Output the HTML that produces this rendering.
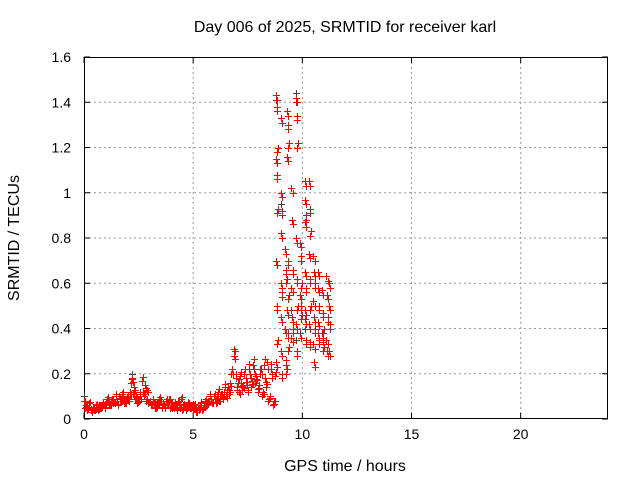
<!DOCTYPE html>
<html><head><meta charset="utf-8"><style>
body{margin:0;background:#fff}
svg text{font-family:"Liberation Sans",sans-serif;font-size:14px;fill:#000}
svg text.big{font-size:16px}
</style></head><body>
<svg id="c" width="640" height="480">
<text class="big" x="345" y="32" text-anchor="middle">Day 006 of 2025, SRMTID for receiver karl</text>
<text class="big" x="345" y="471" text-anchor="middle">GPS time / hours</text>
<text class="big" transform="translate(19,238) rotate(-90)" text-anchor="middle">SRMTID / TECUs</text>
</svg>
<script>
const xTicks=[0,5,10,15,20];
const yTicks=[0,0.2,0.4,0.6,0.8,1,1.2,1.4,1.6];
const yTickLabels=["0","0.2","0.4","0.6","0.8","1","1.2","1.4","1.6"];
const baseStart=0, baseStep=0.1;
const baseA=[.08,.06,.05,.04,.05,.04,.05,.06,.05,.06,.07,.08,.06,.09,.07,.08,.10,.08,.09,.07,.10,.12,.18,.14,.10,.08,.09,.12,.15,.13,.08,.06,.07,.05,.06,.08,.07,.05,.06,.09,.07,.05,.06,.08,.05,.04,.06,.05,.07,.05,.04,.05,.06,.05,.04,.06,.07,.08,.09,.07,.09,.10,.08,.11,.12,.10,.14,.16,.22,.30,.14,.12,.16,.15,.18,.13,.20,.17,.22,.19,.15,.22,.12,.18,.25,.10,.20,.08];
const baseB=[.05,.04,.07,.03,.04,.06,.04,.05,.07,.05,.09,.06,.08,.07,.10,.06,.08,.11,.07,.09,.08,.16,.11,.09,.07,.11,.17,.10,.08,.07,.06,.08,.05,.07,.09,.05,.06,.08,.07,.05,.05,.07,.04,.06,.09,.06,.04,.07,.05,.06,.06,.03,.04,.07,.05,.08,.06,.10,.07,.10,.07,.12,.10,.09,.14,.13,.11,.20,.28,.18,.16,.19,.13,.20,.15,.22,.14,.24,.16,.12,.20,.10,.24,.14,.08,.22,.06,.19];
const peakTimes=[8.8,9.0,9.2,9.3,9.5,9.7,9.9,10.1,10.3,10.5,10.7,10.9,11.1,11.2];
const peakValues=[[1.43,1.38,1.2,1.15,1.08,0.93,0.70,0.50,0.35,0.25],[1.33,1.0,0.92,0.82,0.6,0.56,0.45,0.3,0.2],[0.75,0.66,0.62,0.4,0.26,0.22],[1.36,1.3,1.22,1.16,0.7,0.55,0.48,0.38,0.32],[1.02,0.88,0.66,0.58,0.45,0.4,0.36],[1.42,1.34,1.22,0.8,0.62,0.5,0.42,0.3],[0.78,0.72,0.6,0.55,0.5,0.46,0.38],[1.05,0.97,0.9,0.87,0.65,0.58,0.48,0.44,0.35],[1.05,0.93,0.83,0.73,0.62,0.5,0.42,0.34],[0.72,0.65,0.6,0.52,0.45,0.4,0.33,0.25],[0.65,0.58,0.5,0.43,0.38,0.35],[0.57,0.47,0.4,0.38,0.36,0.32],[0.63,0.55,0.45,0.35,0.3],[0.6,0.5,0.42,0.3]];
const grayTimes=[8.8,9.7,9.7,9.0,9.5,10.1,0.0,2.2,9.7];
const grayValues=[1.41,1.44,1.40,0.95,0.48,0.40,0.10,0.20,0.35];

const L=84,R=608,T=57,B=419;
const xs=v=>L+v/24*(R-L), ys=v=>B-v/1.6*(B-T);
const svg=document.getElementById('c'), NS='http://www.w3.org/2000/svg';
function mk(t,a){const e=document.createElementNS(NS,t);for(const k in a)e.setAttribute(k,a[k]);svg.appendChild(e);return e;}
xTicks.forEach(v=>{const x=xs(v);
 if(v>0){const g=mk('line',{x1:x,y1:T,x2:x,y2:B,stroke:'#999','stroke-dasharray':'2,3'});
 
 }
 const t=mk('text',{x:x,y:B+20,'text-anchor':'middle'});t.textContent=String(v);
 
 
 mk('line',{x1:x,y1:B,x2:x,y2:B-6,stroke:'#000'});mk('line',{x1:x,y1:T,x2:x,y2:T+6,stroke:'#000'});});
yTicks.forEach((v,i)=>{const y=ys(v);
 if(v>0&&v<1.6){const g=mk('line',{x1:L,y1:y,x2:R,y2:y,stroke:'#999','stroke-dasharray':'2,3'});
 
 }
 const t=mk('text',{x:L-13,y:y+5,'text-anchor':'end'});t.textContent=yTickLabels[i];
 
 
 mk('line',{x1:L,y1:y,x2:L+6,y2:y,stroke:'#000'});mk('line',{x1:R,y1:y,x2:R-6,y2:y,stroke:'#000'});});
const fr=mk('rect',{x:L+.5,y:T+.5,width:R-L-1,height:B-T-1,fill:'none',stroke:'#000'});


function plus(t,v,c){const x=Math.round(xs(t))+.5,y=Math.round(ys(v))+.5;
 const p=mk('path',{d:`M${x-3.5} ${y}h7M${x} ${y-3.5}v7`,stroke:c,'stroke-width':1,fill:'none'});
 
 }
grayTimes.forEach((t,i)=>plus(t,grayValues[i],'#444'));
baseA.forEach((v,i)=>{plus(baseStart+i*baseStep,v,'#f00');plus(baseStart+i*baseStep+0.03,v*0.85+0.01,'#f00');});
baseB.forEach((v,i)=>{plus(baseStart+i*baseStep+0.05,v,'#f00');plus(baseStart+i*baseStep+0.08,v*1.1,'#f00');});
peakTimes.forEach((t,i)=>peakValues[i].forEach((v,j)=>{plus(t+(j%3)*0.04,v,'#f00');plus(t+0.06,v-0.02,'#f00');}));
</script>
</body></html>
